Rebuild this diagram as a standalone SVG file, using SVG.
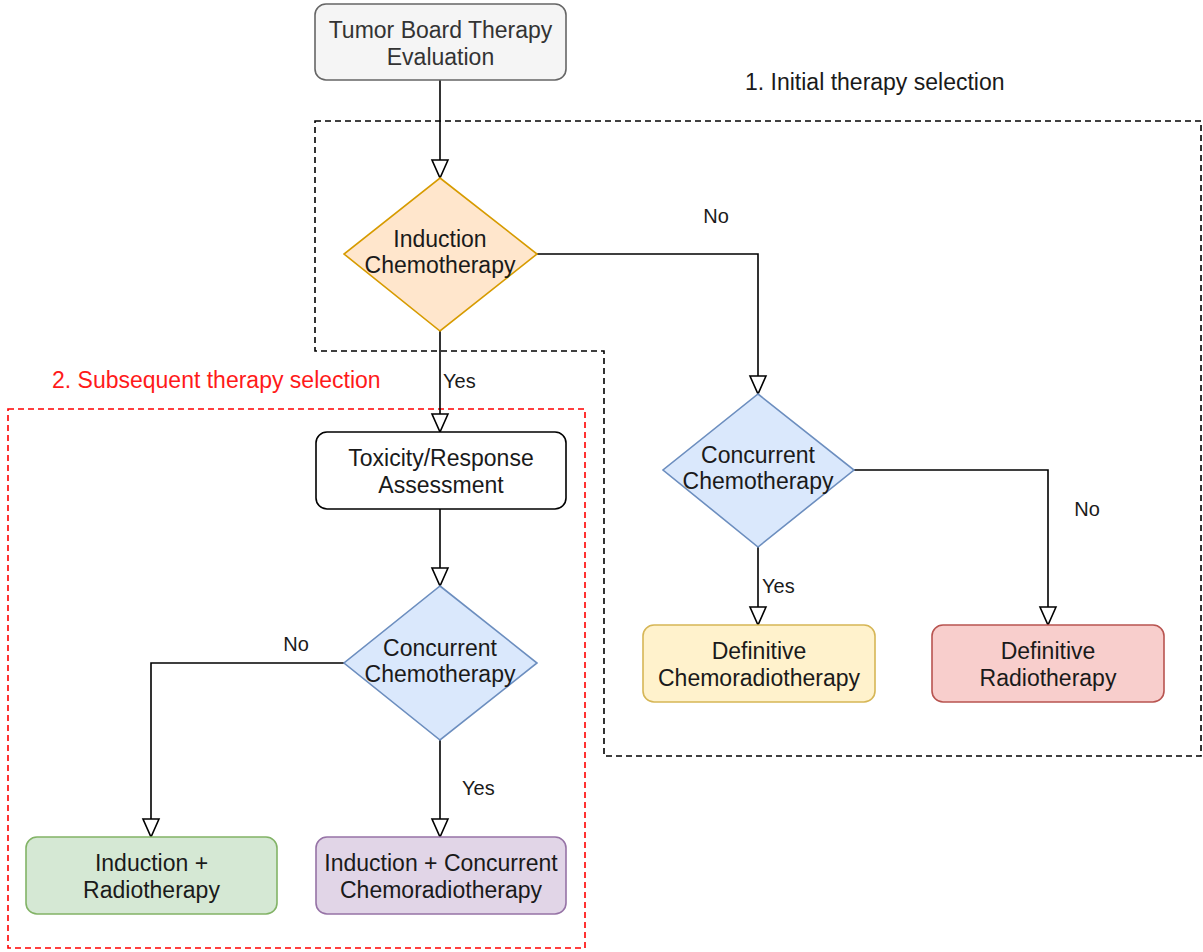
<svg xmlns="http://www.w3.org/2000/svg" width="1203" height="952" viewBox="0 0 1203 952">
  <style>
    .t { font-family: "Liberation Sans", Arial, sans-serif; font-size: 23px; fill: #1a1a1a; text-anchor: middle; }
    .lbl { font-family: "Liberation Sans", Arial, sans-serif; font-size: 20px; fill: #1a1a1a; }
    .sec { font-family: "Liberation Sans", Arial, sans-serif; font-size: 23px; }
    .edge { fill: none; stroke: #000; stroke-width: 1.6; marker-end: url(#open); }
    .zone { fill: none; stroke-width: 1.6; stroke-dasharray: 6 4; }
  </style>
  <defs>
    <marker id="open" viewBox="0 0 18 16" refX="0" refY="8" markerWidth="18" markerHeight="16" markerUnits="userSpaceOnUse" orient="auto" overflow="visible">
      <path d="M0,0 L18,8 L0,16 Z" fill="#fff" stroke="#000" stroke-width="1.6" stroke-linejoin="miter"/>
    </marker>
  </defs>

  <rect width="1203" height="952" fill="#fff"/>

  <!-- selection zones -->
  <g id="zones">
    <path class="zone" stroke="#000" d="M315,121 H1201 V756 H604 V351 H315 Z"/>
    <text class="sec" x="745" y="90" fill="#1a1a1a">1. Initial therapy selection</text>
    <rect class="zone" stroke="#ff0000" x="8" y="409" width="577" height="539"/>
    <text class="sec" x="52" y="388" fill="#ff1a1a">2. Subsequent therapy selection</text>
  </g>

  <!-- connectors -->
  <g id="connectors">
    <path class="edge" d="M440,80 V160"/>
    <path class="edge" d="M440,331 V414"/>
    <text class="lbl" x="443" y="388">Yes</text>
    <path class="edge" d="M537,254 H758 V376"/>
    <text class="lbl" x="716" y="223" text-anchor="middle">No</text>
    <path class="edge" d="M854,470 H1048 V607"/>
    <text class="lbl" x="1087" y="516" text-anchor="middle">No</text>
    <path class="edge" d="M758,547 V607"/>
    <text class="lbl" x="762" y="593">Yes</text>
    <path class="edge" d="M440,509 V568"/>
    <path class="edge" d="M344,663 H151 V819"/>
    <text class="lbl" x="296" y="651" text-anchor="middle">No</text>
    <path class="edge" d="M440,740 V819"/>
    <text class="lbl" x="462" y="795">Yes</text>
  </g>

  <g id="tumor-board">
    <rect x="315" y="4" width="251" height="76" rx="11" fill="#f5f5f5" stroke="#666" stroke-width="1.6"/>
    <text class="t" x="440.5" y="38" style="fill:#333">Tumor Board Therapy</text>
    <text class="t" x="440.5" y="65" style="fill:#333">Evaluation</text>
  </g>

  <g id="induction-chemo">
    <path d="M440,178 L537,254 L440,331 L344,254 Z" fill="#ffe6cc" stroke="#d79b00" stroke-width="1.6"/>
    <text class="t" x="440" y="247">Induction</text>
    <text class="t" x="440" y="273">Chemotherapy</text>
  </g>

  <g id="concurrent-chemo-initial">
    <path d="M758,394 L854,470 L758,547 L663,470 Z" fill="#dae8fc" stroke="#6c8ebf" stroke-width="1.6"/>
    <text class="t" x="758" y="463">Concurrent</text>
    <text class="t" x="758" y="489">Chemotherapy</text>
  </g>

  <g id="definitive-crt">
    <rect x="643" y="625" width="232" height="77" rx="11" fill="#fff2cc" stroke="#d6b656" stroke-width="1.6"/>
    <text class="t" x="759" y="659">Definitive</text>
    <text class="t" x="759" y="686">Chemoradiotherapy</text>
  </g>

  <g id="definitive-rt">
    <rect x="932" y="625" width="232" height="77" rx="11" fill="#f8cecc" stroke="#b85450" stroke-width="1.6"/>
    <text class="t" x="1048" y="659">Definitive</text>
    <text class="t" x="1048" y="686">Radiotherapy</text>
  </g>

  <g id="toxicity-response">
    <rect x="316" y="432" width="250" height="77" rx="11" fill="#fff" stroke="#000" stroke-width="1.6"/>
    <text class="t" x="441" y="466">Toxicity/Response</text>
    <text class="t" x="441" y="493">Assessment</text>
  </g>

  <g id="concurrent-chemo-subsequent">
    <path d="M440,586 L537,663 L440,740 L344,663 Z" fill="#dae8fc" stroke="#6c8ebf" stroke-width="1.6"/>
    <text class="t" x="440" y="656">Concurrent</text>
    <text class="t" x="440" y="682">Chemotherapy</text>
  </g>

  <g id="induction-rt">
    <rect x="26" y="837" width="251" height="77" rx="11" fill="#d5e8d4" stroke="#82b366" stroke-width="1.6"/>
    <text class="t" x="151.5" y="871">Induction +</text>
    <text class="t" x="151.5" y="898">Radiotherapy</text>
  </g>

  <g id="induction-concurrent-crt">
    <rect x="316" y="837" width="250" height="77" rx="11" fill="#e1d5e7" stroke="#9673a6" stroke-width="1.6"/>
    <text class="t" x="441" y="871">Induction + Concurrent</text>
    <text class="t" x="441" y="898">Chemoradiotherapy</text>
  </g>
</svg>
